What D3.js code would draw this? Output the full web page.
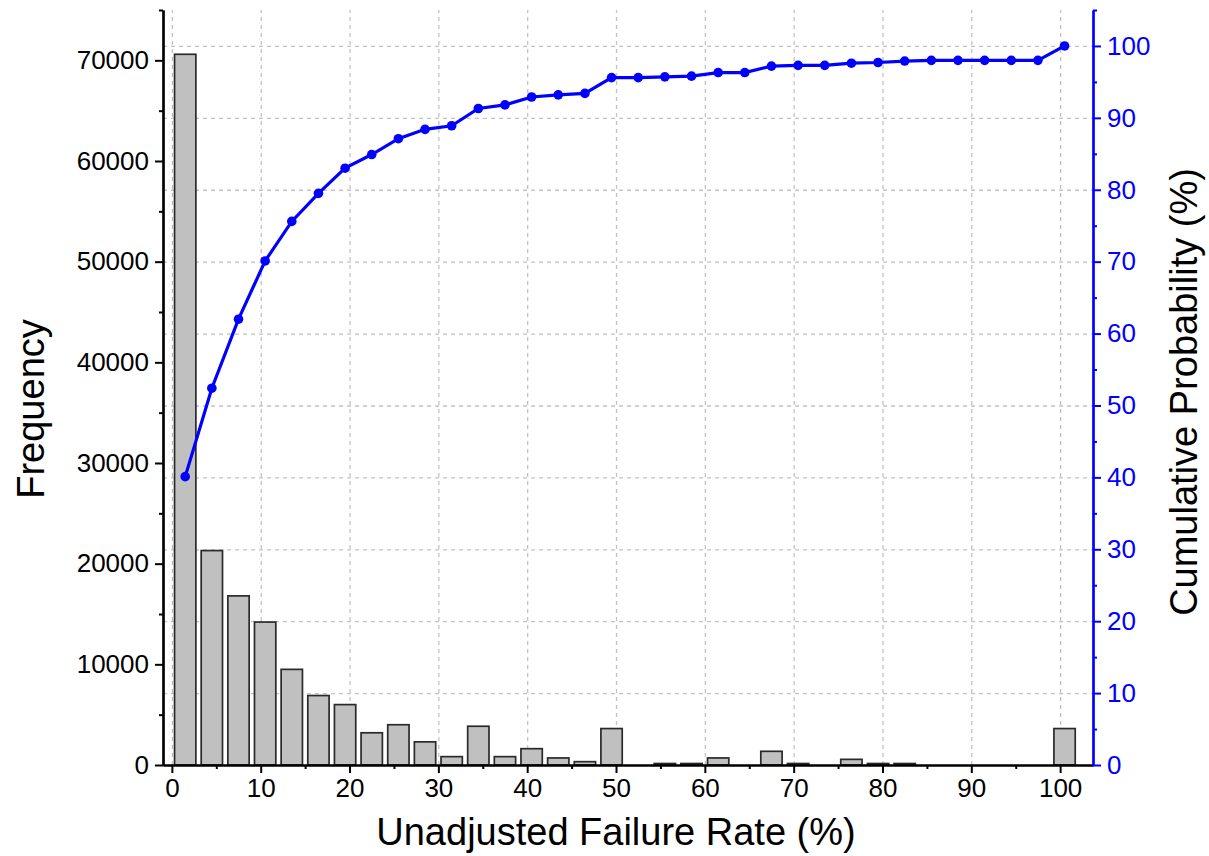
<!DOCTYPE html>
<html>
<head>
<meta charset="utf-8">
<script src="https://cdn.jsdelivr.net/npm/d3@7"></script>
<style>
	body { margin: 0; background: #fff; }
	svg { font-family: Arial, "Liberation Sans", sans-serif; }
	.grid line { stroke: #c4c4c4; stroke-width: 1.3; stroke-dasharray: 4,4; }
	.grid path { display: none; }
	.bar { fill: #c0c0c0; stroke: #2a2a2a; stroke-width: 1.7; }
	.cum { fill: none; stroke: #0000ff; stroke-width: 3.2; }
	.dot { fill: #0000ff; }
	.title { font-size: 38px; fill: #000; }
</style>
</head>
<body>
<svg width="1209" height="856"></svg>
<script>
var WIDTH = 1209;
var HEIGHT = 856;
var LEFT = 163, RIGHT = 1093, TOP = 10, BOTTOM = 765;

// bin centres of the histogram (%)
var binCenters = [1.5, 4.5, 7.5, 10.5, 13.5, 16.5, 19.5, 22.5, 25.5, 28.5,
                  31.5, 34.5, 37.5, 40.5, 43.5, 46.5, 49.5, 52.5, 55.5, 58.5,
                  61.5, 64.5, 67.5, 70.5, 73.5, 76.5, 79.5, 82.5, 85.5, 88.5,
                  91.5, 94.5, 97.5, 100.5];
var frequency = [70600, 21300, 16800, 14200, 9500, 6900, 6000, 3200, 4000, 2300,
                 830, 3850, 830, 1620, 700, 330, 3620, 0, 150, 150,
                 700, 0, 1360, 150, 0, 560, 150, 150, 0, 0,
                 0, 0, 0, 3620];
var cumulative = [40.1, 52.4, 62.0, 70.1, 75.6, 79.5, 83.0, 84.9, 87.1, 88.4,
                  88.9, 91.3, 91.8, 92.9, 93.2, 93.4, 95.6, 95.6, 95.7, 95.8,
                  96.3, 96.3, 97.2, 97.3, 97.3, 97.6, 97.7, 97.9, 98.0, 98.0,
                  98.0, 98.0, 98.0, 100];

var xTicks = d3.range(0, 101, 10);
var xMinor = d3.range(5, 100, 10);
var freqTicks = d3.range(0, 70001, 10000);
var freqMinor = d3.range(5000, 75001, 10000);
var probTicks = d3.range(0, 101, 10);
var probMinor = d3.range(5, 106, 10);

var BIN_WIDTH = 2.4;

var x = d3.scaleLinear().domain([-1, 103.7]).range([LEFT, RIGHT]);
var yFreq = d3.scaleLinear().domain([0, 75000]).range([BOTTOM, TOP]);
var yProb = d3.scaleLinear().domain([0, 105]).range([BOTTOM, TOP]);

var svg = d3.select("svg");

/**
 * dashed gridlines, vertical on x ticks, horizontal on probability ticks
 */
svg.append("g")
	.attr("class", "grid")
	.attr("transform", "translate(0," + BOTTOM + ")")
	.call(d3.axisBottom(x)
		.tickValues(xTicks)
		.tickSize(-(BOTTOM - TOP))
		.tickFormat(""));

svg.append("g")
	.attr("class", "grid")
	.attr("transform", "translate(" + LEFT + ",0)")
	.call(d3.axisLeft(yProb)
		.tickValues(probTicks.slice(1))
		.tickSize(-(RIGHT - LEFT))
		.tickFormat(""));

// histogram bars (empty bins are skipped)
var bins = binCenters.map(function(c, i){return [c, frequency[i]];})
                     .filter(function(d){return d[1] > 0;});

svg.selectAll("rect.bar")
	.data(bins)
	.enter()
	.append("rect")
	.attr("class", "bar")
	.attr("x", function(d){return x(d[0] - BIN_WIDTH / 2);})
	.attr("width", function(d){return x(d[0] + BIN_WIDTH / 2) - x(d[0] - BIN_WIDTH / 2);})
	.attr("y", function(d){return yFreq(d[1]);})
	.attr("height", function(d){return BOTTOM - yFreq(d[1]);});

// cumulative line with markers
var points = binCenters.map(function(c, i){return [c, cumulative[i]];});

var line = d3.line()
	.x(function(d){return x(d[0]);})
	.y(function(d){return yProb(d[1]);});

svg.append("path")
	.datum(points)
	.attr("class", "cum")
	.attr("d", line);

svg.selectAll("circle.dot")
	.data(points)
	.enter()
	.append("circle")
	.attr("class", "dot")
	.attr("cx", function(d){return x(d[0]);})
	.attr("cy", function(d){return yProb(d[1]);})
	.attr("r", 4.8);

/**
 * draws one axis: major ticks with labels, minor ticks without
 */
function drawAxis(axisFn, scale, major, minor, pos, color)
{
	var g = svg.append("g").attr("transform", pos);

	g.append("g")
		.call(axisFn(scale)
			.tickValues(minor)
			.tickSize(4)
			.tickSizeOuter(0)
			.tickFormat(""));

	g.append("g")
		.call(axisFn(scale)
			.tickValues(major)
			.tickSize(8)
			.tickSizeOuter(0)
			.tickPadding(6)
			.tickFormat(d3.format("d")));

	g.selectAll("path")
		.attr("stroke", color)
		.attr("stroke-width", 2.2);
	g.selectAll("line")
		.attr("stroke", color)
		.attr("stroke-width", 2);
	g.selectAll("text")
		.attr("fill", color)
		.style("font-size", "26px")
		.style("font-family", "Arial, 'Liberation Sans', sans-serif");
	return g;
}

drawAxis(d3.axisBottom, x, xTicks, xMinor, "translate(0," + BOTTOM + ")", "#000");
drawAxis(d3.axisLeft, yFreq, freqTicks, freqMinor, "translate(" + LEFT + ",0)", "#000");
drawAxis(d3.axisRight, yProb, probTicks, probMinor, "translate(" + RIGHT + ",0)", "#0000ff");

// axis titles
svg.append("text")
	.attr("class", "title")
	.attr("text-anchor", "middle")
	.attr("transform", "translate(44,409) rotate(-90)")
	.text("Frequency");

svg.append("text")
	.attr("class", "title")
	.attr("text-anchor", "middle")
	.attr("transform", "translate(1197,392) rotate(-90)")
	.text("Cumulative Probability (%)");

svg.append("text")
	.attr("class", "title")
	.attr("text-anchor", "middle")
	.attr("x", 616)
	.attr("y", 845)
	.text("Unadjusted Failure Rate (%)");
</script>
</body>
</html>
